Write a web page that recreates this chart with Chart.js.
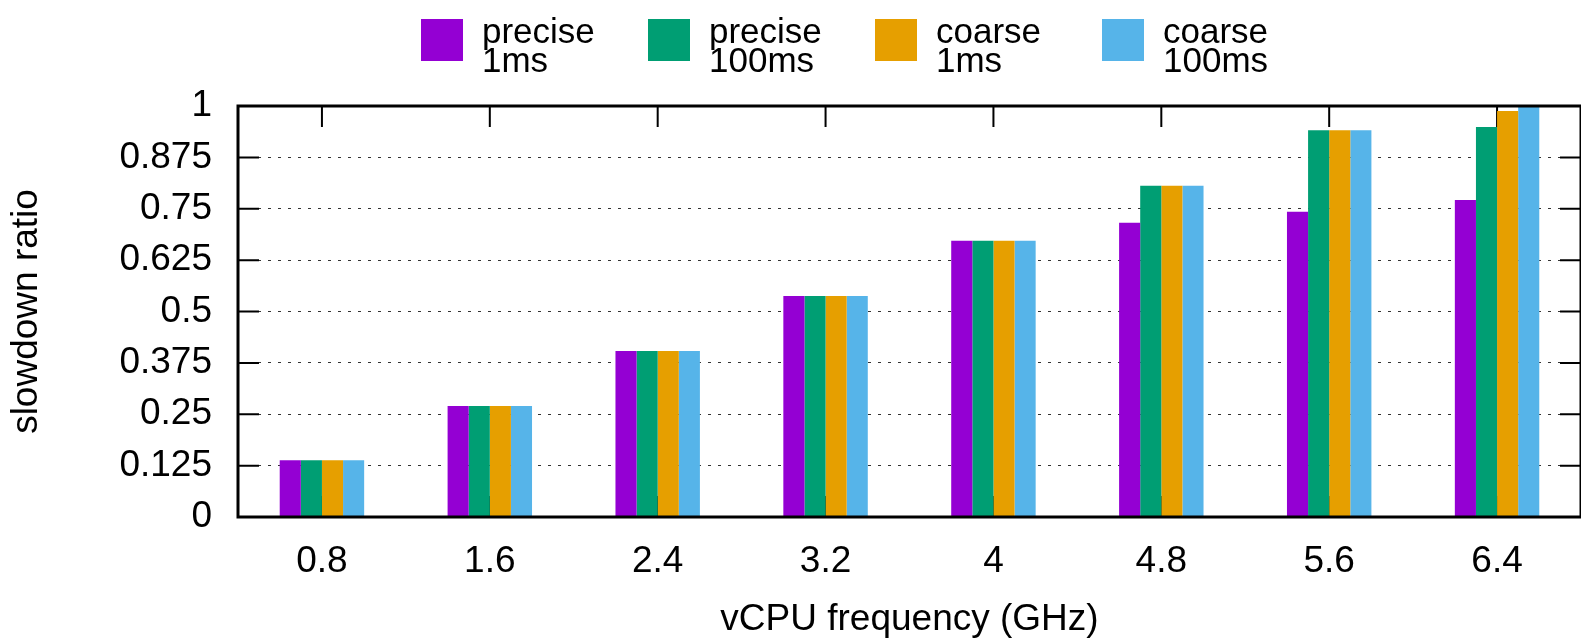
<!DOCTYPE html>
<html>
<head>
<meta charset="utf-8">
<title>slowdown ratio vs vCPU frequency</title>
<script src="https://cdn.jsdelivr.net/npm/chart.js@4.4.0/dist/chart.umd.min.js"></script>
<style>
  html, body { margin: 0; padding: 0; background: #fff; }
  canvas { display: block; }
</style>
</head>
<body>
<canvas id="slowdownChart" width="1581" height="640"></canvas>
<script>
// values
const frequencies = ['0.8', '1.6', '2.4', '3.2', '4', '4.8', '5.6', '6.4'];
const precise1ms   = [0.138, 0.270, 0.404, 0.538, 0.672, 0.716, 0.743, 0.771];
const precise100ms = [0.138, 0.270, 0.404, 0.538, 0.672, 0.806, 0.941, 0.949];
const coarse1ms    = [0.138, 0.270, 0.404, 0.538, 0.672, 0.806, 0.941, 0.988];
const coarse100ms  = [0.138, 0.270, 0.404, 0.538, 0.672, 0.806, 0.941, 1.0];
const seriesNames  = ['precise 1ms', 'precise 100ms', 'coarse 1ms', 'coarse 100ms'];
const seriesColors = ['#9400d3', '#009e73', '#e69f00', '#56b4e9'];
const yTicks = [0, 0.125, 0.25, 0.375, 0.5, 0.625, 0.75, 0.875, 1];

const FONT = '"Liberation Sans", Arial, Helvetica, sans-serif';

// gnuplot look: inward ticks on all four sides, heavy frame, two-line key on top
const gnuplotFrame = {
    id: 'gnuplotFrame',
    beforeDatasetsDraw(chart) {
        const { ctx, chartArea: a, scales: { x, y } } = chart;
        ctx.save();
        ctx.strokeStyle = '#000';
        ctx.lineWidth = 2;
        ctx.beginPath();
        y.ticks.forEach(t => {
            const py = y.getPixelForValue(t.value);
            ctx.moveTo(a.left, py);
            ctx.lineTo(a.left + 21, py);
            ctx.moveTo(a.right, py);
            ctx.lineTo(a.right - 21, py);
        });
        x.ticks.forEach((t, i) => {
            const px = x.getPixelForTick(i);
            ctx.moveTo(px, a.top);
            ctx.lineTo(px, a.top + 21);
            ctx.moveTo(px, a.bottom);
            ctx.lineTo(px, a.bottom - 21);
        });
        ctx.stroke();
        ctx.restore();
    },
    afterDatasetsDraw(chart) {
        const { ctx, chartArea: a } = chart;
        ctx.save();
        ctx.strokeStyle = '#000';
        ctx.lineWidth = 3;
        ctx.strokeRect(a.left, a.top, a.right - a.left, a.bottom - a.top);
        ctx.restore();
    },
    afterDraw(chart) {
        const ctx = chart.ctx;
        ctx.save();
        ctx.font = '35px ' + FONT;
        ctx.textBaseline = 'alphabetic';
        ctx.textAlign = 'left';
        chart.data.datasets.forEach((ds, i) => {
            const bx = 421 + i * 227;
            ctx.fillStyle = ds.backgroundColor;
            ctx.fillRect(bx, 19, 42, 42);
            ctx.fillStyle = '#000';
            ds.label.split(' ').forEach((line, j) => {
                ctx.fillText(line, bx + 61, 43 + j * 29);
            });
        });
        ctx.restore();
    }
};

const seriesValues = [precise1ms, precise100ms, coarse1ms, coarse100ms];

new Chart(document.getElementById('slowdownChart'), {
    type: 'bar',
    data: {
        labels: frequencies,
        datasets: seriesValues.map((values, i) => ({
            label: seriesNames[i],
            data: values,
            backgroundColor: seriesColors[i],
            borderWidth: 0,
            barPercentage: 1,
            categoryPercentage: 0.503
        }))
    },
    options: {
        responsive: false,
        animation: false,
        devicePixelRatio: 1,
        layout: { padding: { top: 106, right: -6, left: 0, bottom: 0 } },
        plugins: {
            legend: { display: false },
            tooltip: { enabled: false }
        },
        scales: {
            x: {
                offset: true,
                grid: { display: false, drawTicks: false },
                border: { display: false },
                ticks: {
                    color: '#000',
                    padding: 23,
                    maxRotation: 0,
                    font: { family: FONT, size: 37 }
                },
                title: {
                    display: true,
                    text: 'vCPU frequency (GHz)',
                    color: '#000',
                    font: { family: FONT, size: 37, lineHeight: 1 },
                    padding: { top: 0, bottom: 2 }
                },
                afterFit(scale) { scale.height = 123; }
            },
            y: {
                min: 0,
                max: 1,
                afterBuildTicks(scale) {
                    scale.ticks = yTicks.map(v => ({ value: v }));
                },
                grid: { color: '#333', lineWidth: 1, drawTicks: false },
                border: { display: false, dash: [3, 7] },
                ticks: {
                    color: '#000',
                    padding: 26,
                    font: { family: FONT, size: 37 },
                    callback: v => String(v)
                },
                title: {
                    display: true,
                    text: 'slowdown ratio',
                    color: '#000',
                    font: { family: FONT, size: 37 },
                    padding: { top: 5, bottom: 0 }
                },
                afterFit(scale) { scale.width = 238; }
            }
        }
    },
    plugins: [gnuplotFrame]
});
</script>
</body>
</html>
